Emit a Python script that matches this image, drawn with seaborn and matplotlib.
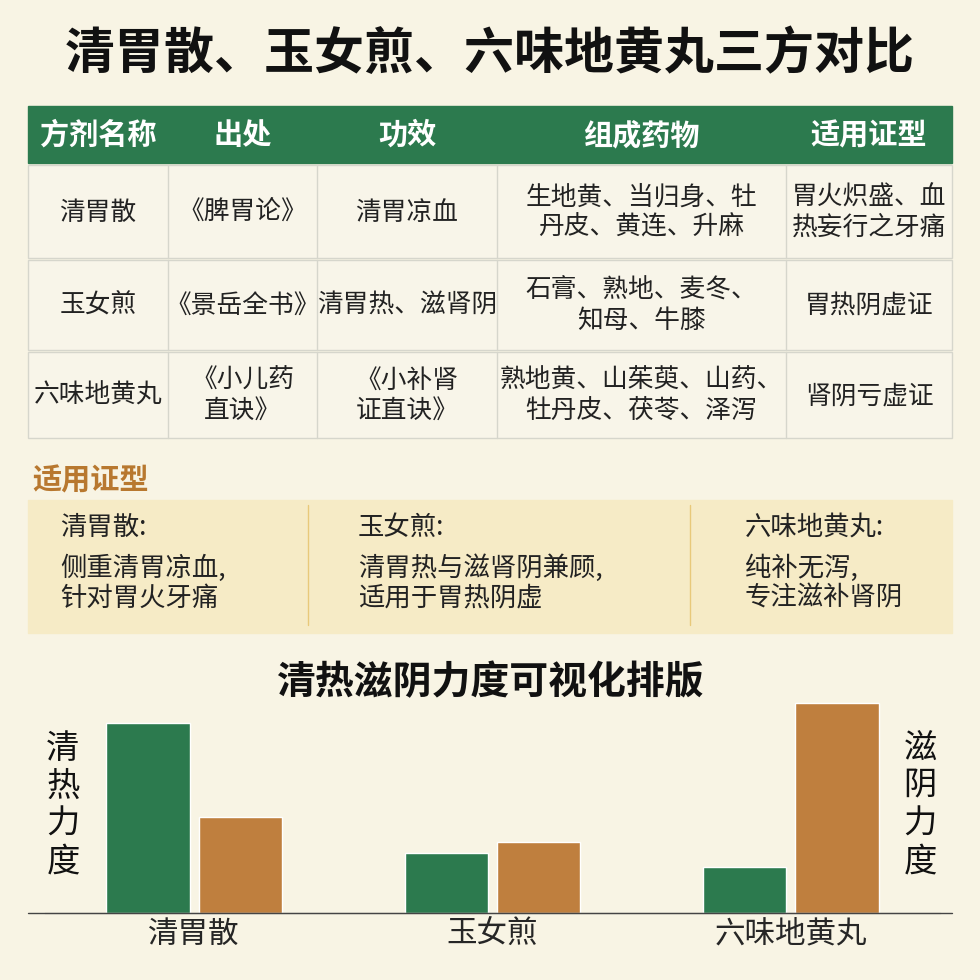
import matplotlib
matplotlib.use("Agg")
import matplotlib.pyplot as plt
from matplotlib.patches import Rectangle
import seaborn as sns
import pandas as pd

formulas = ["清胃散", "玉女煎", "六味地黄丸"]
heat_clearing = [190, 60, 46]
yin_nourishing = [96, 71, 210]
headers = ["方剂名称", "出处", "功效", "组成药物", "适用证型"]
rows = [
    ["清胃散", "《脾胃论》", "清胃凉血", "生地黄、当归身、牡\n丹皮、黄连、升麻", "胃火炽盛、血\n热妄行之牙痛"],
    ["玉女煎", "《景岳全书》", "清胃热、滋肾阴", "石膏、熟地、麦冬、\n知母、牛膝", "胃热阴虚证"],
    ["六味地黄丸", "《小儿药\n直诀》", "《小补肾\n证直诀》", "熟地黄、山茱萸、山药、\n牡丹皮、茯苓、泽泻", "肾阴亏虚证"],
]
notes = [("清胃散:", "侧重清胃凉血,\n针对胃火牙痛"),
         ("玉女煎:", "清胃热与滋肾阴兼顾,\n适用于胃热阴虚"),
         ("六味地黄丸:", "纯补无泻,\n专注滋补肾阴")]

sns.set_style("white")
plt.rcParams['font.family'] = ['Noto Sans CJK SC', 'DejaVu Sans']
BG = "#f8f4e4"; GREEN = "#2c7a4e"; BROWN = "#bf7f3e"
fig = plt.figure(figsize=(9.8, 9.8), dpi=100, facecolor=BG)
W = 980
def fx(x): return x / W
def fy(y): return 1 - y / W
def rect(x0, y0, x1, y1, **kw):
    fig.patches.append(Rectangle((fx(x0), fy(y1)), fx(x1 - x0), (y1 - y0) / W,
                                 transform=fig.transFigure, **kw))

fig.text(fx(490), fy(55), "清胃散、玉女煎、六味地黄丸三方对比", ha="center", va="center",
         fontsize=36, fontweight="bold", color="#111")
cols = [28, 168, 317, 497, 786, 952]
rect(28, 106, 952, 163, color=GREEN)
for i, h in enumerate(headers):
    fig.text(fx((cols[i] + cols[i + 1]) / 2), fy(135), h, ha="center", va="center",
             fontsize=21, fontweight="bold", color="white")
rbounds = [165, 260, 352, 440]
for r, row in enumerate(rows):
    y0, y1 = rbounds[r], rbounds[r + 1]
    rect(28, y0, 952, y1 - 2, color="#f8f5e9", ec="#d6d6cc", lw=1)
    for i, t in enumerate(row):
        fig.text(fx((cols[i] + cols[i + 1]) / 2), fy((y0 + y1) / 2), t, ha="center", va="center",
                 fontsize=18.5, color="#222", linespacing=1.2)
    for c in cols[1:-1]:
        fig.lines.append(plt.Line2D([fx(c)] * 2, [fy(y0), fy(y1 - 2)], transform=fig.transFigure,
                                    color="#d6d6cc", lw=1))
fig.text(fx(32), fy(480), "适用证型", ha="left", va="center", fontsize=21, fontweight="bold", color="#b8782f")
rect(28, 500, 952, 633, color="#f6ebc6")
xs = [60, 358, 745]
for (a, b), x in zip(notes, xs):
    fig.text(fx(x), fy(527), a, ha="left", va="center", fontsize=19, color="#222")
    fig.text(fx(x), fy(583), b, ha="left", va="center", fontsize=19, color="#222", linespacing=1.15)
for x in [308, 690]:
    fig.lines.append(plt.Line2D([fx(x)] * 2, [fy(505), fy(625)], transform=fig.transFigure,
                                color="#e8c97a", lw=1))
fig.text(fx(490), fy(683), "清热滋阴力度可视化排版", ha="center", va="center",
         fontsize=28, fontweight="bold", color="#111")

df = pd.DataFrame({"方剂": formulas * 2, "值": heat_clearing + yin_nourishing,
                   "类型": ["清热"] * 3 + ["滋阴"] * 3})
ax = fig.add_axes([fx(45), fy(913), fx(895), 215 / W])
ax.set_facecolor(BG)
sns.barplot(data=df, x="方剂", y="值", hue="类型", palette=[GREEN, BROWN], saturation=1,
            width=0.62, gap=0.1, ax=ax, legend=False)
ax.set_xlim(-0.5, 2.5)
ax.set_ylim(0, 215)
ax.set_yticks([])
ax.set_xlabel(""); ax.set_ylabel("")
ax.tick_params(axis="x", length=0, labelsize=22, pad=4)
for s in ["top", "left", "right"]:
    ax.spines[s].set_visible(False)
ax.spines["bottom"].set_color("#444")
fig.lines.append(plt.Line2D([fx(28), fx(952)], [fy(913)] * 2, transform=fig.transFigure, color="#444", lw=1))
fig.text(fx(63), fy(805), "清\n热\n力\n度", ha="center", va="center", fontsize=24, color="#111", linespacing=1.1)
fig.text(fx(920), fy(805), "滋\n阴\n力\n度", ha="center", va="center", fontsize=24, color="#111", linespacing=1.1)
fig.savefig("out.png", dpi=100, facecolor=BG)
